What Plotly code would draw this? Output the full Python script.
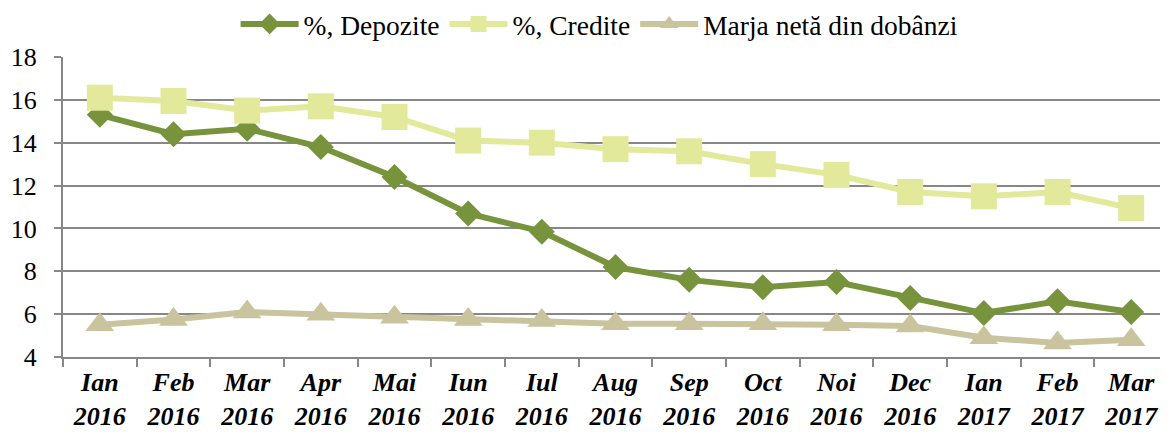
import plotly.graph_objects as go

months = ["Ian", "Feb", "Mar", "Apr", "Mai", "Iun", "Iul", "Aug",
          "Sep", "Oct", "Noi", "Dec", "Ian", "Feb", "Mar"]
years = ["2016"] * 12 + ["2017"] * 3
categories = [f"{m}<br>{y}" for m, y in zip(months, years)]

depozite = [15.3, 14.4, 14.65, 13.8, 12.4, 10.7, 9.85, 8.2,
            7.6, 7.25, 7.5, 6.75, 6.05, 6.6, 6.1]
credite = [16.1, 15.95, 15.5, 15.7, 15.2, 14.1, 14.0, 13.7,
           13.6, 13.0, 12.5, 11.7, 11.5, 11.7, 10.95]
marja = [5.5, 5.75, 6.1, 6.0, 5.85, 5.75, 5.7, 5.55,
         5.55, 5.55, 5.5, 5.45, 4.9, 4.65, 4.8]

FONT = "Liberation Serif, DejaVu Serif, serif"
GRID = "#878787"

fig = go.Figure()

fig.add_trace(go.Scatter(
    x=categories, y=depozite, mode="lines+markers", name="%, Depozite",
    line=dict(color="#77933C", width=6),
    marker=dict(symbol="diamond", size=20, color="#77933C")
))

fig.add_trace(go.Scatter(
    x=categories, y=credite, mode="lines+markers", name="%, Credite",
    line=dict(color="#E3E99B", width=6),
    marker=dict(symbol="square", size=26, color="#E3E99B")
))

fig.add_trace(go.Scatter(
    x=categories, y=marja, mode="lines+markers", name="Marja netă din dobânzi",
    line=dict(color="#C9C39E", width=6),
    marker=dict(symbol="triangle-up", size=25, color="#C9C39E")
))

# page adds an 8px body margin, so the figure is sized 8px smaller
fig.update_layout(
    width=1160, height=424,
    margin=dict(l=55, r=0, t=49, b=75, autoexpand=False),
    plot_bgcolor="white", paper_bgcolor="white",
    font=dict(family=FONT, size=26, color="black"),
    showlegend=True,
    legend=dict(orientation="h", x=0.51, xanchor="center", xref="container",
                y=1.11, yanchor="middle", yref="paper", itemwidth=58,
                font=dict(family=FONT, size=27.5)),
)

fig.update_xaxes(
    type="category", range=[-0.5, 14.5], showgrid=False,
    showline=True, linecolor=GRID, linewidth=2,
    ticks="outside", tickson="boundaries", ticklen=8, tickcolor=GRID, tickwidth=2,
    ticklabelstandoff=1,
    tickfont=dict(family=FONT, size=26, style="italic", weight="bold"),
    automargin=False,
)

fig.update_yaxes(
    range=[4, 18], dtick=2, showgrid=True, gridcolor=GRID, gridwidth=2,
    showline=True, linecolor=GRID, linewidth=2, zeroline=False,
    ticks="outside", ticklen=7, tickcolor=GRID, tickwidth=2,
    ticklabelstandoff=12,
    tickfont=dict(family=FONT, size=26), automargin=False,
)

fig.write_html("out.html")
